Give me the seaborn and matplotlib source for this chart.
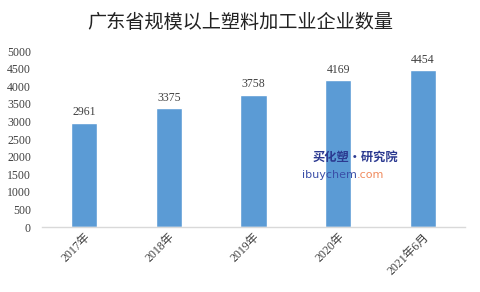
import matplotlib
matplotlib.use("Agg")
import matplotlib.pyplot as plt
import seaborn as sns
import pandas as pd

categories = ["2017年", "2018年", "2019年", "2020年", "2021年6月"]
values = [2961, 3375, 3758, 4169, 4454]
yticks = [0, 500, 1000, 1500, 2000, 2500, 3000, 3500, 4000, 4500, 5000]
title = "广东省规模以上塑料加工业企业数量"

sns.set_theme(style="white")
plt.rcParams['font.family'] = ['Liberation Serif', 'Noto Sans CJK SC', 'DejaVu Sans']

df = pd.DataFrame({"cat": categories, "val": values})

fig = plt.figure(figsize=(4.8, 2.92), dpi=100)
ax = fig.add_axes([42/480, 1 - 227/292, (465-42)/480, (227-51)/292])

sns.barplot(data=df, x="cat", y="val", color="#5B9BD5", saturation=1, width=0.31, ax=ax)

ax.set_ylim(0, 5000)
ax.set_xlim(-0.5, 4.5)
ax.set_yticks(yticks)
ax.set_yticklabels([str(t) for t in yticks], fontsize=8.5, color="#404040")
ax.tick_params(axis='y', length=0, pad=8)
ax.tick_params(axis='x', length=0, pad=3)
ax.set_xticks(range(len(categories)))
ax.set_xticklabels(categories, rotation=45, ha='right', rotation_mode='anchor',
                   fontsize=8.5, color="#404040")
ax.set_xlabel("")
ax.set_ylabel("")
for s in ["top", "right", "left"]:
    ax.spines[s].set_visible(False)
ax.spines["bottom"].set_color("#D9D9D9")
ax.spines["bottom"].set_linewidth(1)

for i, v in enumerate(values):
    ax.text(i, v + 130, str(v), ha='center', va='bottom', fontsize=8.5, color="#404040")

fig.text(0.5, 1 - 22/292, title, ha='center', va='center', fontsize=13.8,
         fontweight='medium', color="#222222", family=['Noto Sans CJK SC'])

# watermark
fig.text(355/480, 1 - 157/292, "买化塑·研究院", ha='center', va='center', fontsize=8.8,
         fontweight='bold', style='italic', color="#2B3990", family=['Noto Sans CJK SC'])
fig.text(357/480, 1 - 175/292, "ibuychem", ha='right', va='center', fontsize=8,
         color="#3A4FA8", family=['DejaVu Sans'])
fig.text(357/480, 1 - 175/292, ".com", ha='left', va='center', fontsize=8,
         color="#F08A5D", family=['DejaVu Sans'])

fig.savefig("out.png", dpi=100)
